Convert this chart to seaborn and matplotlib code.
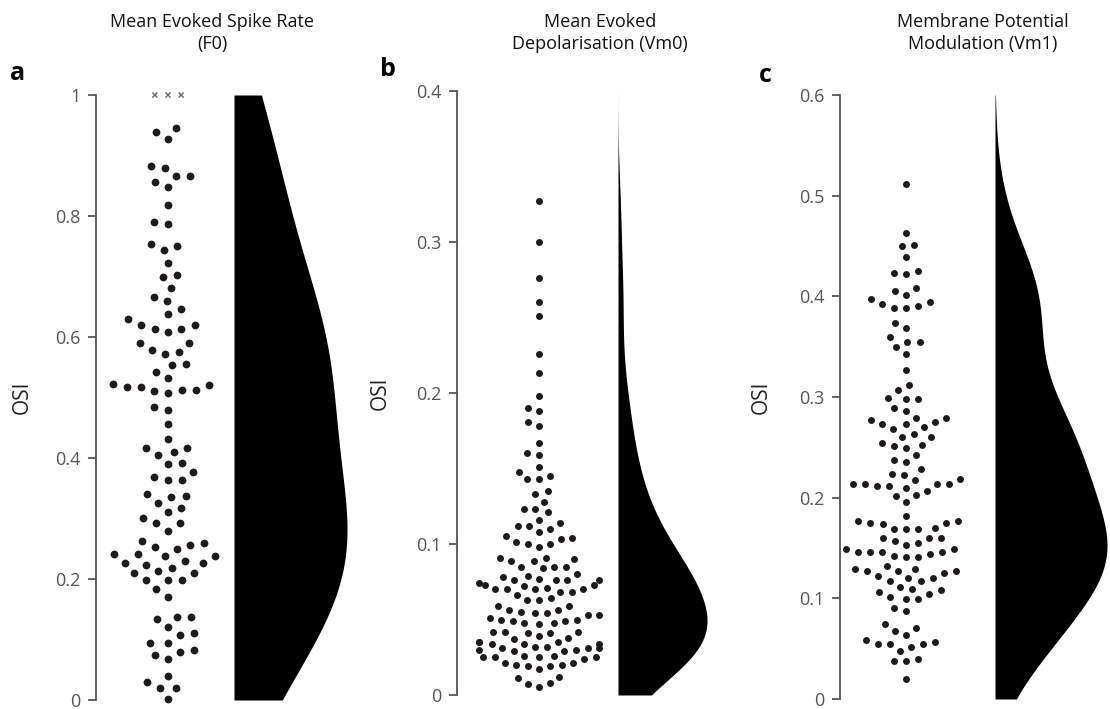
import numpy as np
import matplotlib
matplotlib.use("Agg")
import matplotlib.pyplot as plt
from matplotlib.path import Path
import seaborn as sns

# ---------------------------------------------------------------- data
titles = ["Mean Evoked Spike Rate\n(F0)",
          "Mean Evoked\nDepolarisation (Vm0)",
          "Membrane Potential\nModulation (Vm1)"]
panel_letters = ["a", "b", "c"]
y_label = "OSI"

y_tops = [1.0, 0.4, 0.6]
tick_values = [[0, 0.2, 0.4, 0.6, 0.8, 1.0],
               [0, 0.1, 0.2, 0.3, 0.4],
               [0, 0.1, 0.2, 0.3, 0.4, 0.5, 0.6]]
tick_labels = [["0", "0.2", "0.4", "0.6", "0.8", "1"],
               ["0", "0.1", "0.2", "0.3", "0.4"],
               ["0", "0.1", "0.2", "0.3", "0.4", "0.5", "0.6"]]

# cells whose F0 OSI sits at the ceiling (drawn as crosses)
osi_f0_ceiling = [1.0, 1.0, 1.0]

osi_f0 = [0.945, 0.939, 0.927, 0.882, 0.879, 0.866, 0.866, 0.857, 0.848, 0.818,
          0.790, 0.787, 0.754, 0.751, 0.744, 0.723, 0.702, 0.699, 0.681, 0.666,
          0.660, 0.647, 0.638, 0.629, 0.620, 0.620, 0.614, 0.614, 0.608, 0.590,
          0.590, 0.578, 0.575, 0.572, 0.556, 0.553, 0.542, 0.532, 0.523, 0.520,
          0.518, 0.518, 0.513, 0.513, 0.511, 0.508, 0.484, 0.480, 0.456, 0.431,
          0.417, 0.417, 0.410, 0.405, 0.392, 0.390, 0.377, 0.368, 0.363, 0.363,
          0.341, 0.338, 0.335, 0.326, 0.317, 0.311, 0.301, 0.292, 0.292, 0.280,
          0.262, 0.259, 0.256, 0.253, 0.250, 0.241, 0.241, 0.238, 0.238, 0.229,
          0.226, 0.226, 0.223, 0.219, 0.214, 0.210, 0.210, 0.198, 0.198, 0.198,
          0.183, 0.171, 0.137, 0.137, 0.134, 0.120, 0.110, 0.107, 0.095, 0.095,
          0.083, 0.080, 0.074, 0.068, 0.040, 0.029, 0.020, 0.020, 0.002]

osi_vm0 = [0.327, 0.300, 0.276, 0.260, 0.251, 0.226, 0.213, 0.198, 0.190, 0.188,
           0.181, 0.178, 0.167, 0.160, 0.159, 0.151, 0.148, 0.145, 0.143, 0.143,
           0.135, 0.133, 0.128, 0.123, 0.123, 0.121, 0.116, 0.114, 0.112, 0.112,
           0.110, 0.108, 0.105, 0.104, 0.103, 0.101, 0.100, 0.100, 0.098,
           0.091, 0.091, 0.090, 0.089, 0.089, 0.085, 0.085, 0.085, 0.084,
           0.080, 0.079,
           0.078, 0.077, 0.076, 0.076, 0.076, 0.076, 0.074, 0.073,
           0.073, 0.072, 0.071, 0.070, 0.070, 0.070, 0.070, 0.068, 0.068,
           0.066, 0.064, 0.063, 0.063,
           0.059, 0.059, 0.056, 0.056, 0.055, 0.054, 0.054,
           0.053, 0.053, 0.051, 0.050, 0.050, 0.049, 0.049, 0.048, 0.048, 0.047,
           0.042, 0.042, 0.042, 0.041, 0.041, 0.039, 0.038, 0.037,
           0.035, 0.035, 0.035, 0.034, 0.034, 0.034, 0.032, 0.032, 0.031, 0.031,
           0.031, 0.030, 0.030, 0.029, 0.029, 0.026, 0.026, 0.025, 0.025, 0.025,
           0.025, 0.024, 0.021,
           0.021, 0.020, 0.020, 0.019, 0.019, 0.017,
           0.012, 0.011, 0.008, 0.007, 0.005]

osi_vm1 = [0.512, 0.463, 0.451, 0.450, 0.439, 0.425, 0.423, 0.422, 0.408, 0.405,
           0.401, 0.397, 0.394, 0.392, 0.390, 0.388, 0.388, 0.374, 0.369, 0.360,
           0.355, 0.355, 0.350, 0.343, 0.327, 0.312, 0.307, 0.299, 0.298, 0.298,
           0.289, 0.286, 0.279, 0.279, 0.277, 0.275, 0.273, 0.273, 0.270, 0.268,
           0.263, 0.260, 0.260, 0.254, 0.252, 0.251, 0.249, 0.242, 0.237, 0.235,
           0.228, 0.224, 0.223, 0.219, 0.218, 0.214, 0.214, 0.214, 0.214, 0.212,
           0.212, 0.210, 0.207, 0.203, 0.202, 0.196, 0.182, 0.177, 0.177, 0.175,
           0.175, 0.174, 0.170, 0.169, 0.169, 0.169, 0.160, 0.160, 0.160, 0.157,
           0.155, 0.153, 0.149, 0.149, 0.146, 0.146, 0.146, 0.146, 0.144, 0.142,
           0.141, 0.141, 0.132, 0.129, 0.129, 0.127, 0.127, 0.127, 0.125, 0.122,
           0.120, 0.120, 0.117, 0.117, 0.111, 0.109, 0.108, 0.106, 0.104, 0.101,
           0.099, 0.099, 0.090, 0.087, 0.075, 0.071, 0.068, 0.064, 0.059, 0.057,
           0.055, 0.055, 0.055, 0.052, 0.048, 0.040, 0.038, 0.038, 0.020]

datasets = [osi_f0, osi_vm0, osi_vm1]
ceilings = [osi_f0_ceiling, [], []]

# ---------------------------------------------------------------- style
sns.set_theme(style="white")
plt.rcParams["font.family"] = ["Open Sans", "DejaVu Sans"]

DOT = "#1e1a1b"
AXIS_GREY = "#555555"
W_PX, H_PX = 1110, 709

# pixel layout per panel:
# spine x, swarm centre x, violin left x, violin width, y of top tick, y of zero
layout = [
    dict(spine=96, centre=168, vleft=234, vwidth=113, ytop=95, ybot=700,
         dot=5.6, gap=4.0, bw=1.3, letter=(18, 74), title=(212, 33), ylab=33),
    dict(spine=457, centre=539, vleft=618, vwidth=89, ytop=91, ybot=695,
         dot=5.0, gap=3.0, bw=1.0, letter=(388, 70), title=(600, 33), ylab=391),
    dict(spine=840, centre=906, vleft=995, vwidth=112, ytop=95, ybot=699,
         dot=5.0, gap=3.4, bw=1.1, letter=(765, 75), title=(983, 33), ylab=772),
]
PX_PER_UNIT = 150.0


def rect(x0, x1, ytop, ybot):
    return [x0 / W_PX, 1 - ybot / H_PX, (x1 - x0) / W_PX, (ybot - ytop) / H_PX]


# small cross marker, padded so that its swarm footprint is wider than the glyph
cross = Path([(-1, -1), (1, 1), (-.45, -.45), (.45, .45), (-.45, .45), (.45, -.45)],
             [Path.MOVETO, Path.MOVETO, Path.MOVETO, Path.LINETO,
              Path.MOVETO, Path.LINETO])

fig = plt.figure(figsize=(W_PX / 100, H_PX / 100), dpi=100)

for i, (vals, lay) in enumerate(zip(datasets, layout)):
    top = y_tops[i]

    # --- swarm of individual cells
    ax = fig.add_axes(rect(lay["spine"], lay["vleft"], lay["ytop"], lay["ybot"]))
    sns.swarmplot(y=vals, ax=ax, color=DOT, size=lay["dot"], linewidth=lay["gap"],
                  warn_thresh=1.0)
    dots = ax.collections[-1]
    dots.set_edgecolor((0, 0, 0, 0))
    dots.set_clip_on(False)

    if ceilings[i]:
        sns.swarmplot(y=ceilings[i], ax=ax, marker=cross, size=8, linewidth=1.0,
                      color="#666666", warn_thresh=1.0)
        xs = ax.collections[-1]
        xs.set_facecolor("none")
        xs.set_edgecolor("#666666")
        xs.set_clip_on(False)

    ax.set_xlim(-(lay["centre"] - lay["spine"]) / PX_PER_UNIT,
                (lay["vleft"] - lay["centre"]) / PX_PER_UNIT)
    ax.set_ylim(0, top)
    ax.set_yticks(tick_values[i])
    ax.set_yticklabels(tick_labels[i])
    ax.set_xticks([])
    for side in ["top", "right", "bottom"]:
        ax.spines[side].set_visible(False)
    ax.spines["left"].set_color(AXIS_GREY)
    ax.spines["left"].set_linewidth(1.3)
    ax.tick_params(axis="y", left=True, length=6, width=1.3, color=AXIS_GREY,
                   labelcolor=AXIS_GREY, labelsize=13, pad=5)
    ax.set_ylabel(y_label, fontsize=15, color="#222222")
    ax_w = lay["vleft"] - lay["spine"]
    ax.yaxis.set_label_coords((lay["ylab"] - lay["spine"]) / ax_w, 0.5)
    ax.patch.set_alpha(0)

    # --- half-violin: kernel density of the same cells
    kax = fig.add_axes(rect(lay["vleft"], lay["vleft"] + lay["vwidth"],
                            lay["ytop"], lay["ybot"]))
    sns.kdeplot(y=list(vals) + list(ceilings[i]), ax=kax, fill=True, color="black",
                alpha=1, linewidth=0, clip=(0, top), cut=10, bw_adjust=lay["bw"])
    poly = kax.collections[-1]
    dens_max = max(p.vertices[:, 0].max() for p in poly.get_paths())
    kax.set_xlim(0, dens_max)
    kax.set_ylim(0, top)
    kax.axis("off")

    # --- titles and panel letters
    fig.text(lay["title"][0] / W_PX, 1 - lay["title"][1] / H_PX, titles[i],
             ha="center", va="center", fontsize=13, linespacing=1.35, color="#111111")
    fig.text(lay["letter"][0] / W_PX, 1 - lay["letter"][1] / H_PX, panel_letters[i],
             ha="center", va="center", fontsize=18, fontweight="bold", color="black")

fig.savefig("out.png", dpi=100)
